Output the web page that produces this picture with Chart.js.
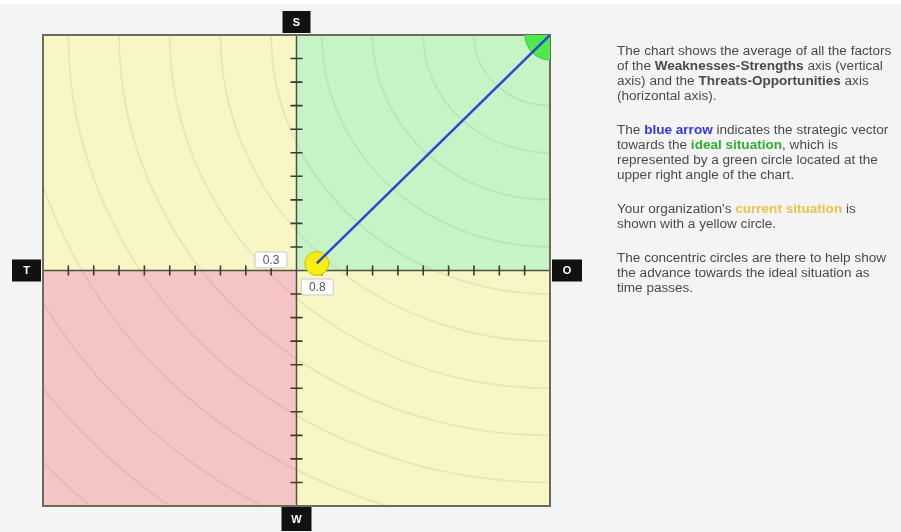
<!DOCTYPE html>
<html>
<head>
<meta charset="utf-8">
<script src="https://cdn.jsdelivr.net/npm/chart.js@4"></script>
<style>
  html, body { margin: 0; padding: 0; }
  body { width: 901px; height: 532px; background: #f4f4f4; position: relative; overflow: hidden; font-family: "Liberation Sans", Arial, sans-serif; }
  #topstrip { position: absolute; left: 0; top: 0; width: 901px; height: 4px; background: #ffffff; }
  #wrap { position: absolute; left: 0; top: 0; width: 901px; height: 532px; }
  #info { position: absolute; left: 617px; top: 44px; color: #4a4a4a; font-size: 12px; line-height: 15px; white-space: nowrap; transform: scaleX(1.13); transform-origin: 0 0; }
  #info p { margin: 0 0 19px 0; }
  .blue { color: #3535e8; font-weight: bold; }
  .green { color: #2fae2f; font-weight: bold; }
  .gold { color: #eec24a; font-weight: bold; }
</style>
</head>
<body>
<div id="topstrip"></div>
<div id="wrap"><canvas id="c" width="901" height="532"></canvas></div>
<div id="info">
  <p>The chart shows the average of all the factors<br>of the <b>Weaknesses-Strengths</b> axis (vertical<br>axis) and the <b>Threats-Opportunities</b> axis<br>(horizontal axis).</p>
  <p>The <span class="blue">blue arrow</span> indicates the strategic vector<br>towards the <span class="green">ideal situation</span>, which is<br>represented by a green circle located at the<br>upper right angle of the chart.</p>
  <p>Your organization's <span class="gold">current situation</span> is<br>shown with a yellow circle.</p>
  <p>The concentric circles are there to help show<br>the advance towards the ideal situation as<br>time passes.</p>
</div>
<script>
// ---- data ----
const axisMin = -10;
const axisMax = 10;
const tickValues = [-9, -8, -7, -6, -5, -4, -3, -2, -1, 1, 2, 3, 4, 5, 6, 7, 8, 9];
const ringRadii = [3, 5, 7, 9, 11, 13, 15, 17, 19, 21, 23, 25, 27, 29];
const currentSituation = { x: 0.8, y: 0.3 };   // Threats-Opportunities, Weaknesses-Strengths
const idealSituation = { x: 10, y: 10 };
const axisLetters = { top: 'S', right: 'O', bottom: 'W', left: 'T' };

// ---- plugin: quadrants, rings, axes, labels ----
const swotPlugin = {
  id: 'swot',
  beforeDatasetsDraw(chart) {
    const ctx = chart.ctx, a = chart.chartArea;
    const xs = chart.scales.x, ys = chart.scales.y;
    const cx = xs.getPixelForValue(0), cy = ys.getPixelForValue(0);
    ctx.save();
    // quadrants
    ctx.fillStyle = '#f9f6c6'; ctx.fillRect(a.left, a.top, cx - a.left, cy - a.top);
    ctx.fillStyle = '#c7f4c7'; ctx.fillRect(cx, a.top, a.right - cx, cy - a.top);
    ctx.fillStyle = '#f5c4c4'; ctx.fillRect(a.left, cy, cx - a.left, a.bottom - cy);
    ctx.fillStyle = '#f9f6c6'; ctx.fillRect(cx, cy, a.right - cx, a.bottom - cy);
    // concentric rings around ideal situation
    ctx.beginPath(); ctx.rect(a.left, a.top, a.right - a.left, a.bottom - a.top); ctx.clip();
    const ix = xs.getPixelForValue(idealSituation.x), iy = ys.getPixelForValue(idealSituation.y);
    ctx.strokeStyle = 'rgba(90,90,50,0.11)';
    ctx.lineWidth = 1.6;
    ringRadii.forEach(r => {
      const rx = Math.abs(xs.getPixelForValue(idealSituation.x - r) - ix);
      const ry = Math.abs(ys.getPixelForValue(idealSituation.y - r) - iy);
      ctx.beginPath(); ctx.ellipse(ix, iy, rx, ry, 0, 0, Math.PI * 2); ctx.stroke();
    });
    ctx.restore();
    ctx.save();
    // axes
    ctx.strokeStyle = '#4f4f42';
    ctx.lineWidth = 1.5;
    ctx.beginPath();
    ctx.moveTo(a.left, cy); ctx.lineTo(a.right, cy);
    ctx.moveTo(cx, a.top); ctx.lineTo(cx, a.bottom);
    ctx.stroke();
    ctx.strokeStyle = '#3a3a30';
    ctx.lineWidth = 1.6;
    ctx.beginPath();
    tickValues.forEach(v => {
      const px = xs.getPixelForValue(v);
      ctx.moveTo(px, cy - 5); ctx.lineTo(px, cy + 5);
      const py = ys.getPixelForValue(v);
      ctx.moveTo(cx - 6, py); ctx.lineTo(cx + 6, py);
    });
    ctx.stroke();
    // border
    ctx.strokeStyle = '#6b6b5c';
    ctx.lineWidth = 2;
    ctx.strokeRect(a.left, a.top, a.right - a.left, a.bottom - a.top);
    ctx.restore();
  },
  afterDraw(chart) {
    const ctx = chart.ctx, a = chart.chartArea;
    const xs = chart.scales.x, ys = chart.scales.y;
    const cx = xs.getPixelForValue(0), cy = ys.getPixelForValue(0);
    ctx.save();
    // axis letters
    const box = (x, y, w, h, t) => {
      ctx.fillStyle = '#111';
      ctx.fillRect(x, y, w, h);
      ctx.fillStyle = '#fff';
      ctx.font = 'bold 11px "Liberation Sans", Arial, sans-serif';
      ctx.textAlign = 'center'; ctx.textBaseline = 'middle';
      ctx.fillText(t, x + w / 2, y + h / 2 + 0.5);
    };
    box(cx - 14, a.top - 24, 28, 22, axisLetters.top);
    box(cx - 15, a.bottom + 1, 30, 24, axisLetters.bottom);
    box(a.left - 31, cy - 11, 29, 22, axisLetters.left);
    box(a.right + 2, cy - 11, 30, 22, axisLetters.right);
    // value labels
    const vbox = (x, y, w, h, t) => {
      ctx.fillStyle = '#ffffff';
      ctx.strokeStyle = '#c8c8c8';
      ctx.lineWidth = 1;
      ctx.beginPath();
      ctx.roundRect(x + 0.5, y + 0.5, w, h, 2);
      ctx.fill(); ctx.stroke();
      ctx.fillStyle = '#555';
      ctx.font = '12px "Liberation Sans", Arial, sans-serif';
      ctx.textAlign = 'center'; ctx.textBaseline = 'middle';
      ctx.fillText(t, x + w / 2 + 0.5, y + h / 2 + 1);
    };
    const vy = ys.getPixelForValue(currentSituation.y);
    const vx = xs.getPixelForValue(currentSituation.x);
    vbox(cx - 42, vy - 12, 32, 16, currentSituation.y.toFixed(1));
    vbox(vx - 16, cy + 8, 32, 16, currentSituation.x.toFixed(1));
    ctx.restore();
  }
};

new Chart(document.getElementById('c'), {
  type: 'scatter',
  data: {
    datasets: [
      {
        label: 'Strategic vector',
        type: 'line',
        data: [currentSituation, idealSituation],
        borderColor: '#3046d2',
        borderWidth: 2.5,
        pointRadius: 0,
        fill: false,
        order: 0
      },
      {
        label: 'Current situation',
        data: [currentSituation],
        pointRadius: 12,
        pointBackgroundColor: '#f4ee12',
        pointBorderColor: '#cfc000',
        pointBorderWidth: 1,
        order: 1
      },
      {
        label: 'Ideal situation',
        data: [idealSituation],
        pointRadius: 25,
        pointBackgroundColor: '#4fe84f',
        pointBorderColor: '#3fcf3f',
        pointBorderWidth: 1,
        order: 2
      }
    ]
  },
  options: {
    responsive: false,
    animation: false,
    events: [],
    layout: { padding: { left: 43, top: 35, right: 351, bottom: 25 } },
    scales: {
      x: { type: 'linear', min: axisMin, max: axisMax, display: false },
      y: { type: 'linear', min: axisMin, max: axisMax, display: false }
    },
    plugins: { legend: { display: false }, tooltip: { enabled: false } }
  },
  plugins: [swotPlugin]
});
</script>
</body>
</html>
